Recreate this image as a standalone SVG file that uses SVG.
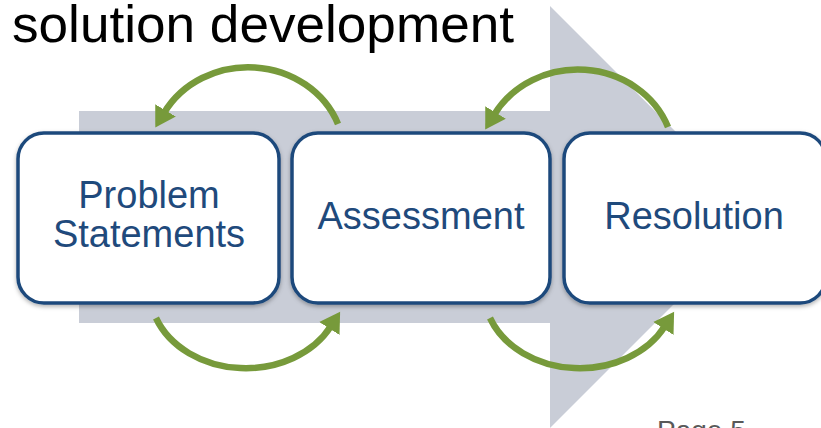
<svg xmlns="http://www.w3.org/2000/svg" width="821" height="428" viewBox="0 0 821 428">
  <defs>
    <style>
      .band { fill: #c9cdd7; }
      .box { fill: #ffffff; stroke: #1f4a7c; stroke-width: 3.5; filter: url(#shadow); }
      .label { font-family: "Liberation Sans", Arial, sans-serif; font-size: 38px; fill: #1f4a7c; text-anchor: middle; }
      .cycle { fill: none; stroke: #779a3b; stroke-width: 6.5; marker-end: url(#head); }
      .title { font-family: "Liberation Sans", Arial, sans-serif; font-size: 52px; fill: #000000; }
      .page { font-family: "Liberation Sans", Arial, sans-serif; font-size: 28px; fill: #595959; }
    </style>
    <filter id="shadow" x="-10%" y="-10%" width="120%" height="125%">
      <feGaussianBlur in="SourceAlpha" stdDeviation="2"/>
      <feOffset dx="0" dy="2" result="blur"/>
      <feFlood flood-color="#000000" flood-opacity="0.3"/>
      <feComposite in2="blur" operator="in"/>
      <feMerge>
        <feMergeNode/>
        <feMergeNode in="SourceGraphic"/>
      </feMerge>
    </filter>
    <marker id="head" markerUnits="userSpaceOnUse" markerWidth="24" markerHeight="26" refX="3" refY="13" orient="auto">
      <path d="M0,1 L20,13 L0,25 Z" fill="#779a3b"/>
    </marker>
  </defs>

  <!-- title -->
  <text class="title" x="12" y="42" textLength="502" lengthAdjust="spacingAndGlyphs">solution development</text>

  <!-- large background arrow -->
  <g id="backdrop">
    <rect class="band" x="79" y="111" width="472" height="212"/>
    <polygon class="band" points="550,6 761,217 550,428"/>
  </g>

  <!-- cycle arrows between stages -->
  <g id="connectors">
    <path class="cycle" d="M338,124 A96,88 0 0 0 164,113"/>
    <path class="cycle" d="M668,127 A96,88 0 0 0 494,115"/>
    <path class="cycle" d="M156,318 A96,78 0 0 0 331,326"/>
    <path class="cycle" d="M490,318 A96,78 0 0 0 665,326"/>
  </g>

  <g id="problem-statements">
    <rect class="box" x="18" y="133" width="261" height="170" rx="26"/>
    <text class="label" x="149" y="208">Problem</text>
    <text class="label" x="149" y="247">Statements</text>
  </g>

  <g id="assessment">
    <rect class="box" x="292" y="133" width="258" height="170" rx="26"/>
    <text class="label" x="421" y="229">Assessment</text>
  </g>

  <g id="resolution">
    <rect class="box" x="564" y="133" width="262" height="170" rx="26"/>
    <text class="label" x="694" y="229">Resolution</text>
  </g>

  <!-- page number, partly below the edge -->
  <text class="page" x="657" y="440">Page 5</text>
</svg>
